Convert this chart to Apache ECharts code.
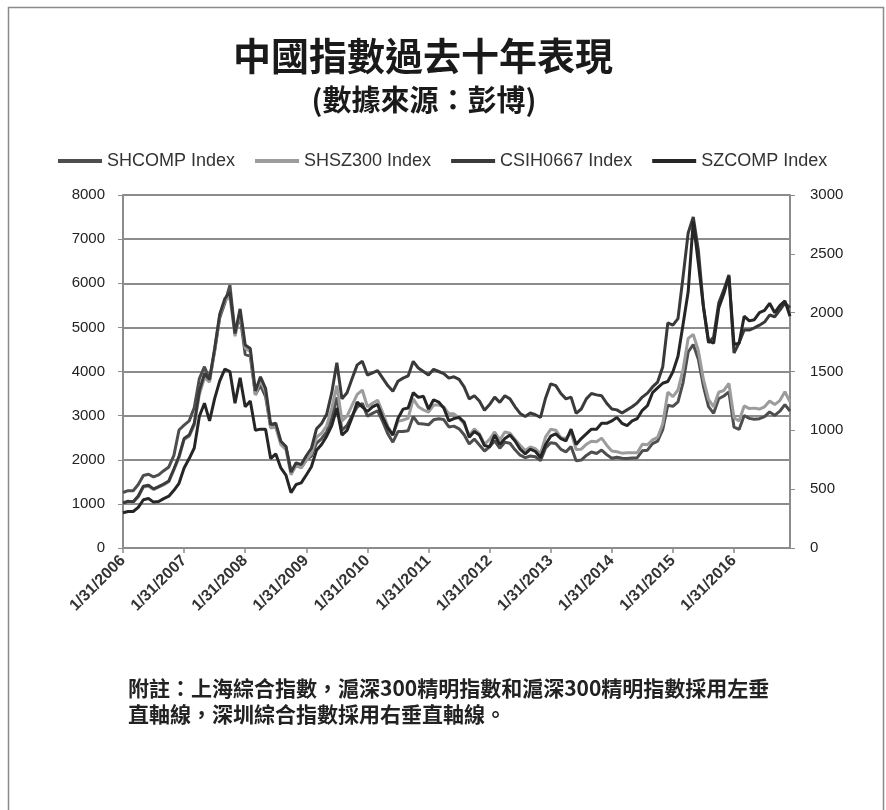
<!DOCTYPE html>
<html>
<head>
<meta charset="utf-8">
<script src="https://cdn.jsdelivr.net/npm/echarts@6/dist/echarts.min.js"></script>
<style>
  html, body { margin: 0; padding: 0; background: #ffffff; }
  #chart { width: 886px; height: 810px; }
</style>
</head>
<body>
<div id="chart"></div>
<script>
// ---------- data (monthly, Jan 2006 – Dec 2016) ----------
const years = [2006, 2007, 2008, 2009, 2010, 2011, 2012, 2013, 2014, 2015, 2016];
const monthEnds = [31, 28, 31, 30, 31, 30, 31, 31, 30, 31, 30, 31];
const categories = [];
years.forEach(y => monthEnds.forEach((d, m) => {
  const day = (m === 1 && y % 4 === 0) ? 29 : d;
  categories.push((m + 1) + '/' + day + '/' + y);
}));

const shcomp = [
  1258,1299,1298,1440,1642,1672,1612,1658,1752,1837,2099,2675,
  2786,2881,3183,3841,4109,3821,4471,5218,5552,5955,4871,5262,
  4383,4348,3473,3693,3433,2736,2776,2397,2293,1729,1871,1821,
  1991,2082,2373,2477,2633,2959,3412,2668,2779,2996,3195,3277,
  2989,3051,3110,2870,2592,2398,2638,2639,2655,2979,2820,2808,
  2791,2905,2928,2911,2743,2762,2701,2568,2359,2468,2333,2199,
  2292,2428,2263,2396,2373,2225,2103,2047,2086,2069,1980,2269,
  2385,2366,2237,2178,2301,1979,1994,2098,2175,2141,2220,2116,
  2033,2056,2033,2026,2039,2048,2202,2217,2364,2420,2683,3235,
  3210,3310,3748,4442,4612,4277,3664,3206,3053,3383,3445,3539,
  2738,2688,3004,2938,2917,2930,2979,3085,3005,3100,3250,3104
];
const shsz300 = [
  1013,1040,1034,1155,1380,1400,1325,1380,1430,1500,1770,2042,
  2460,2530,2780,3480,3860,3760,4470,5270,5600,5690,4800,5340,
  4530,4450,3470,3800,3530,2720,2740,2340,2230,1660,1870,1820,
  1990,2140,2510,2600,2770,3170,3680,2880,2990,3240,3480,3580,
  3200,3280,3350,3070,2760,2560,2870,2900,2940,3380,3200,3130,
  3080,3240,3240,3200,3040,3040,2950,2810,2550,2700,2590,2350,
  2460,2630,2450,2630,2600,2460,2330,2210,2290,2250,2140,2520,
  2690,2670,2500,2480,2620,2230,2240,2350,2420,2410,2490,2330,
  2200,2180,2150,2160,2160,2160,2350,2340,2450,2510,2810,3530,
  3430,3580,4050,4750,4840,4470,3820,3370,3200,3530,3570,3730,
  2950,2880,3220,3160,3170,3150,3200,3330,3250,3340,3540,3310
];
const csih0667 = [
  1020,1060,1050,1180,1400,1420,1340,1390,1450,1520,1790,2080,
  2480,2560,2830,3560,3950,3820,4520,5300,5650,5800,4860,5420,
  4600,4520,3560,3880,3620,2800,2830,2420,2300,1720,1930,1890,
  2090,2260,2700,2820,3030,3520,4200,3380,3520,3840,4150,4230,
  3920,3970,4020,3850,3680,3550,3780,3850,3900,4230,4080,4000,
  3920,4050,4000,3950,3850,3880,3820,3650,3380,3450,3330,3120,
  3250,3420,3300,3450,3380,3200,3050,2980,3060,3020,2960,3400,
  3720,3680,3500,3380,3420,3050,3150,3380,3500,3470,3450,3280,
  3150,3130,3060,3130,3200,3290,3420,3510,3650,3760,4100,5100,
  5050,5200,6150,7140,7500,6750,5460,4650,4780,5550,5850,6190,
  4420,4650,4940,4940,4990,5050,5120,5280,5240,5390,5550,5440
];
const szcomp = [
  300,310,310,345,410,420,390,395,420,440,490,550,
  680,760,850,1120,1230,1080,1270,1420,1520,1500,1230,1447,
  1200,1250,1000,1010,1010,760,800,680,620,470,540,553,
  620,690,830,880,950,1040,1190,960,1000,1110,1240,1200,
  1160,1200,1220,1110,1020,960,1100,1180,1190,1320,1280,1290,
  1180,1260,1240,1190,1080,1100,1110,1070,940,990,960,870,
  860,960,880,930,960,910,840,800,840,820,770,880,
  950,970,930,910,1010,880,930,970,1010,1010,1060,1060,
  1080,1110,1060,1040,1080,1100,1170,1210,1320,1360,1400,1415,
  1497,1630,1901,2177,2775,2420,2050,1760,1740,2040,2160,2309,
  1730,1740,1970,1930,1940,2000,2020,2080,2000,2060,2100,1970
];
const seriesNames = ['SHCOMP Index', 'SHSZ300 Index', 'CSIH0667 Index', 'SZCOMP Index'];
const seriesColors = ['#4e4e4e', '#9c9c9c', '#3a3a3a', '#262626'];
const titleText = '中國指數過去十年表現';
const subtitleText = '(數據來源：彭博)';
const noteLine1 = '附註：上海綜合指數，滬深300精明指數和滬深300精明指數採用左垂';
const noteLine2 = '直軸線，深圳綜合指數採用右垂直軸線。';

// ---------- chart ----------
const chart = echarts.init(document.getElementById('chart'));
const cjk = '"Noto Sans CJK TC", "Noto Sans CJK SC", sans-serif';
const latin = '"Liberation Sans", Arial, sans-serif';

function lineSeries(idx, data, yAxisIndex) {
  return {
    name: seriesNames[idx], type: 'line', data: data, yAxisIndex: yAxisIndex,
    showSymbol: false, symbol: 'none',
    lineStyle: { color: seriesColors[idx], width: 3 },
    itemStyle: { color: seriesColors[idx] },
    emphasis: { disabled: true }, animation: false
  };
}

chart.setOption({
  animation: false,
  backgroundColor: '#ffffff',
  graphic: [
    { type: 'rect', shape: { x: 8.5, y: 7.5, width: 875, height: 840 },
      style: { fill: 'none', stroke: '#8a8a8a', lineWidth: 1.5 }, silent: true },
    { type: 'text', x: 423, y: 56,
      style: { text: titleText, font: 'bold 38px ' + cjk, fill: '#1a1a1a', align: 'center', verticalAlign: 'middle' } },
    { type: 'text', x: 424, y: 100,
      style: { text: subtitleText, font: 'bold 29px ' + cjk, fill: '#1a1a1a', align: 'center', verticalAlign: 'middle' } },
    { type: 'text', x: 128, y: 688,
      style: { text: noteLine1, font: 'bold 21px ' + cjk, fill: '#222', align: 'left', verticalAlign: 'middle' } },
    { type: 'text', x: 128, y: 714,
      style: { text: noteLine2, font: 'bold 21px ' + cjk, fill: '#222', align: 'left', verticalAlign: 'middle' } }
  ],
  legend: {
    data: seriesNames, left: 53, top: 147, icon: 'rect',
    itemWidth: 44, itemHeight: 4, itemGap: 20,
    textStyle: { fontSize: 18, color: '#333', fontFamily: latin }
  },
  grid: { left: 123, right: 96, top: 195, bottom: 262, containLabel: false },
  xAxis: {
    type: 'category', data: categories, boundaryGap: false,
    axisLine: { lineStyle: { color: '#8c8c8c', width: 2 } },
    axisTick: { show: true, interval: 11, length: 5, lineStyle: { color: '#8c8c8c', width: 1.5 } },
    axisLabel: { interval: 11, rotate: 45, margin: 10, fontSize: 16, fontWeight: 'bold', color: '#333', fontFamily: latin },
    splitLine: { show: false }
  },
  yAxis: [
    { type: 'value', min: 0, max: 8000, interval: 1000, position: 'left',
      axisLine: { show: true, lineStyle: { color: '#8c8c8c', width: 2 } },
      axisTick: { show: true, length: 5, lineStyle: { color: '#8c8c8c' } },
      axisLabel: { margin: 18, fontSize: 15, color: '#222', fontFamily: latin, formatter: v => String(v) },
      splitLine: { show: true, lineStyle: { color: '#8c8c8c', width: 2 } } },
    { type: 'value', min: 0, max: 3000, interval: 500, position: 'right',
      axisLine: { show: true, lineStyle: { color: '#8c8c8c', width: 2 } },
      axisTick: { show: true, length: 5, lineStyle: { color: '#8c8c8c' } },
      axisLabel: { margin: 20, fontSize: 15, color: '#222', fontFamily: latin, formatter: v => String(v) },
      splitLine: { show: false } }
  ],
  series: [
    lineSeries(0, shcomp, 0),
    lineSeries(1, shsz300, 0),
    lineSeries(2, csih0667, 0),
    lineSeries(3, szcomp, 1)
  ]
});
</script>
</body>
</html>
